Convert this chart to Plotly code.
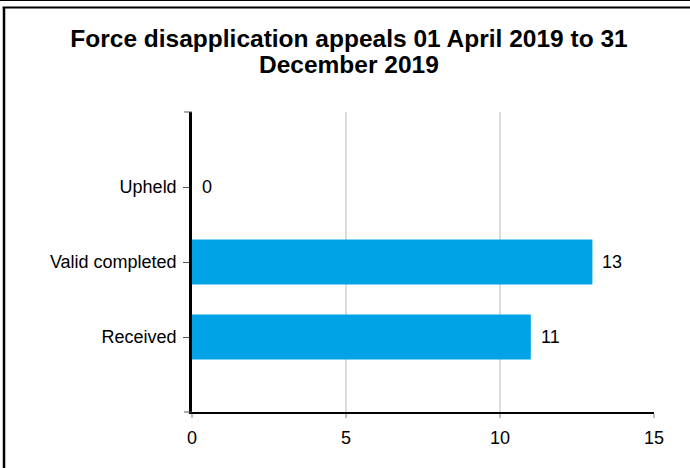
import plotly.graph_objects as go

# appeals, bottom to top as drawn
categorias = ["Received", "Valid completed", "Upheld"]
valores = [11, 13, 0]
x_ticks = [0, 5, 10, 15]

titulo_1 = "Force disapplication appeals 01 April 2019 to 31"
titulo_2 = "December 2019"
fonte = "Liberation Sans, Arial, sans-serif"

fig = go.Figure()
fig.add_trace(
    go.Bar(
        x=valores,
        y=categorias,
        orientation="h",
        width=0.6,
        marker={"color": "#00a4e6", "line": {"width": 0}},
        showlegend=False,
        hoverinfo="x+y",
    )
)

# rótulos de valor à direita de cada barra
for c, v in zip(categorias, valores):
    fig.add_annotation(
        x=v,
        y=c,
        text=str(v),
        showarrow=False,
        xanchor="left",
        xshift=8,
        font={"size": 18, "color": "#000000", "family": fonte},
    )

# segunda linha do título (espaçamento de linha mais apertado que o do plotly)
fig.add_annotation(
    text=f"<b>{titulo_2}</b>",
    xref="paper", yref="paper",
    x=0.34, y=1.16,
    xanchor="center", yanchor="middle",
    showarrow=False,
    font={"size": 24.5, "color": "#000000", "family": fonte},
)

# moldura parcial em volta do gráfico (como no original)
fig.add_shape(type="line", xref="paper", yref="paper",
              x0=-0.42, x1=1.08, y0=1.3717, y1=1.3717,
              line={"color": "#000000", "width": 1})
fig.add_shape(type="line", xref="paper", yref="paper",
              x0=-0.41, x1=1.08, y0=1.348, y1=1.348,
              line={"color": "#000000", "width": 2})
fig.add_shape(type="line", xref="paper", yref="paper",
              x0=-0.4069, x1=-0.4069, y0=1.348, y1=-0.2,
              line={"color": "#000000", "width": 2.5})
# pequenas marcas nas pontas do eixo y
for yy in (0, 1):
    fig.add_shape(type="line", xref="paper", yref="paper",
                  x0=-0.017, x1=0, y0=yy, y1=yy,
                  line={"color": "#555555", "width": 1})

fig.update_layout(
    width=690,
    height=468,
    margin={"l": 192, "r": 36, "t": 112, "b": 56},
    paper_bgcolor="white",
    plot_bgcolor="white",
    font={"family": fonte, "size": 18, "color": "#000000"},
    title={
        "text": titulo_1,
        "x": 349 / 690,
        "xanchor": "center",
        "y": 1 - 38 / 468,
        "yanchor": "middle",
        "yref": "container",
        "font": {"size": 24.5, "family": fonte, "color": "#000000", "weight": "bold"},
    },
)
fig.update_xaxes(
    range=[0, 15],
    tickvals=x_ticks,
    showgrid=True,
    gridcolor="#dcdcdc",
    gridwidth=2,
    zeroline=False,
    showline=True,
    linecolor="#000000",
    linewidth=2,
    ticks="outside",
    ticklen=4,
    tickcolor="#bfbfbf",
    tickwidth=2,
    ticklabelstandoff=4,
    tickfont={"size": 18},
    fixedrange=True,
)
fig.update_yaxes(
    range=[-1, 3],
    categoryorder="array",
    categoryarray=categorias,
    showgrid=False,
    zeroline=False,
    showline=True,
    linecolor="#000000",
    linewidth=2.5,
    ticks="outside",
    ticklen=6,
    tickcolor="#555555",
    tickwidth=1,
    ticklabelstandoff=3,
    tickfont={"size": 18},
    fixedrange=True,
)

# a página tem margem de 8px no body por padrão; o original começa no canto
fig.write_html(
    "out.html",
    config={"displayModeBar": False},
    post_script="document.body.style.margin='0';",
)
